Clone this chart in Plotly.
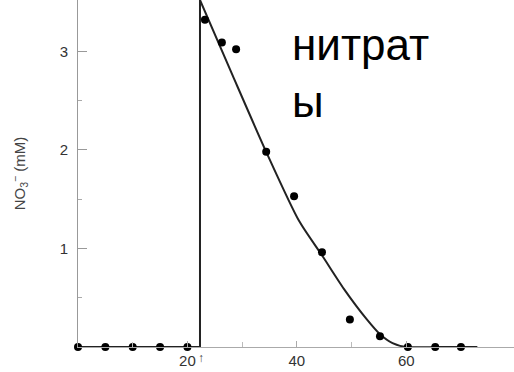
import plotly.graph_objects as go

# Measured points (time, NO3- mM)
pts_x = [0, 5, 10, 15, 20, 23.2, 26.3, 28.9, 34.4, 39.5, 44.6, 49.7, 55.2, 60.3, 65.3, 70]
pts_y = [0, 0, 0, 0, 0, 3.32, 3.09, 3.02, 1.98, 1.53, 0.96, 0.28, 0.11, 0, 0, 0]

# Baseline before addition (step at addition time)
base_x = [0, 22.3, 22.3]
base_y = [0, 0, 3.6]

# Fitted curve after addition
fit_x = [22.3, 28.3, 34.4, 40.4, 44.6, 48.6, 52.8, 55.2, 57.5, 60, 66, 73]
fit_y = [3.52, 2.75, 1.98, 1.28, 0.93, 0.59, 0.28, 0.13, 0.04, 0, 0, 0]

x_ticks = [20, 40, 60]
y_ticks = [1, 2, 3]

fig = go.Figure()
fig.add_trace(go.Scatter(x=base_x, y=base_y, mode="lines",
                         line=dict(color="#222", width=2), hoverinfo="skip"))
fig.add_trace(go.Scatter(x=fit_x, y=fit_y, mode="lines",
                         line=dict(color="#222", width=2, shape="spline", smoothing=0.7),
                         hoverinfo="skip"))
fig.add_trace(go.Scatter(x=pts_x, y=pts_y, mode="markers",
                         marker=dict(color="black", size=8), cliponaxis=False))

fig.update_layout(
    width=514, height=372,
    margin=dict(l=78, r=0, t=0, b=25),
    paper_bgcolor="white", plot_bgcolor="white",
    showlegend=False,
    font=dict(family="Liberation Sans, Arial, sans-serif", color="#444", size=15),
    xaxis=dict(range=[0, 79.7], showgrid=False, zeroline=False,
               showline=True, linecolor="#aaa", linewidth=1,
               tickmode="array", tickvals=x_ticks, ticktext=[str(v) for v in x_ticks],
               ticks="inside", ticklen=6, tickcolor="#aaa",
               minor=dict(tickmode="array", tickvals=[10, 30, 50], ticks="inside",
                          ticklen=5, tickcolor="#bbb"),
               tickfont=dict(size=15, color="#333")),
    yaxis=dict(range=[0, 3.52], showgrid=False, zeroline=False,
               showline=True, linecolor="#999", linewidth=1,
               tickmode="array", tickvals=y_ticks, ticktext=[str(v) for v in y_ticks],
               ticks="inside", ticklen=9, tickcolor="#999",
               ticklabelstandoff=6,
               minor=dict(tickmode="array", tickvals=[0.5, 1.5, 2.5], ticks="inside",
                          ticklen=4, tickcolor="#aaa"),
               tickfont=dict(size=15, color="#333"),
               title=dict(text="NO<sub>3</sub><sup>−</sup> (mM)", standoff=30,
                          font=dict(size=15, color="#444"))),
    annotations=[
        dict(text="нитрат<br>ы", xref="paper", yref="paper",
             x=(290 - 78) / 436, y=1 - 18 / 347, xanchor="left", yanchor="top",
             align="left", showarrow=False,
             font=dict(family="Liberation Sans, Arial, sans-serif", size=44, color="black")),
        dict(text="↑", xref="x", yref="paper", x=22.5, y=-0.005, yanchor="top",
             showarrow=False, font=dict(size=12, color="#444")),
    ],
)

fig.write_html("out.html")
